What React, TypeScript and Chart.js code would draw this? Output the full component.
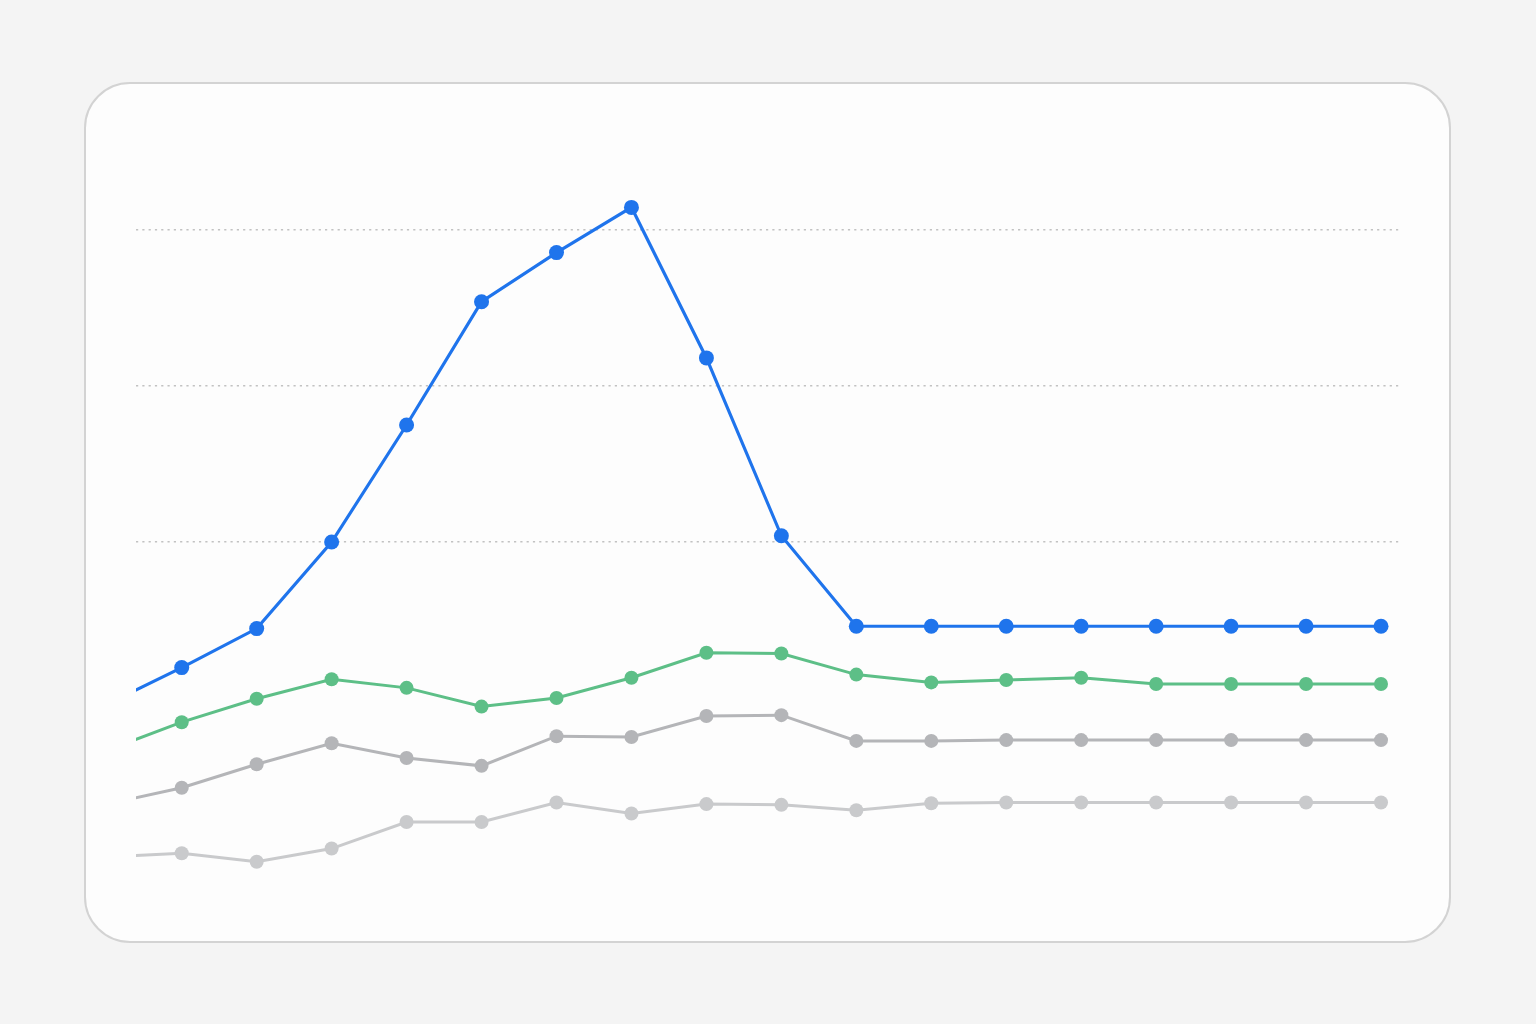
import { useEffect, useRef } from "react";
import { Chart, registerables } from "chart.js";

Chart.register(...registerables);

// period index; -1 is the period just before the window, only its segment shows at the left edge
const periods = [-1, 0, 1, 2, 3, 4, 5, 6, 7, 8, 9, 10, 11, 12, 13, 14, 15, 16];

const primary = [39.2, 43.9, 48.9, 60.0, 75.0, 90.8, 97.1, 102.9, 83.6, 60.8, 49.2, 49.2, 49.2, 49.2, 49.2, 49.2, 49.2, 49.2];
const secondary = [33.3, 36.9, 39.9, 42.4, 41.3, 38.9, 40.0, 42.6, 45.8, 45.7, 43.0, 42.0, 42.3, 42.6, 41.8, 41.8, 41.8, 41.8];
const tertiary = [26.4, 28.5, 31.5, 34.2, 32.3, 31.3, 35.1, 35.0, 37.7, 37.8, 34.5, 34.5, 34.6, 34.6, 34.6, 34.6, 34.6, 34.6];
const baseline = [19.6, 20.1, 19.0, 20.7, 24.1, 24.1, 26.6, 25.2, 26.4, 26.3, 25.6, 26.5, 26.6, 26.6, 26.6, 26.6, 26.6, 26.6];

const gridValues = [60, 80, 100];

export default function App() {
  const canvasRef = useRef<HTMLCanvasElement>(null);

  useEffect(() => {
    if (!canvasRef.current) return;

    const series = (label: string, vals: number[], color: string, width: number, radius: number) => ({
      label,
      data: vals.map((y, i) => ({ x: periods[i], y })),
      borderColor: color,
      backgroundColor: color,
      pointBackgroundColor: color,
      pointBorderWidth: 0,
      pointRadius: radius,
      borderWidth: width,
      tension: 0,
    });

    const chart = new Chart(canvasRef.current, {
      type: "line",
      data: {
        datasets: [
          series("Primary", primary, "#1f74ec", 3.2, 7.5),
          series("Secondary", secondary, "#5dbf87", 3, 7),
          series("Tertiary", tertiary, "#b4b5b8", 3, 7),
          series("Baseline", baseline, "#c9cacc", 3, 7),
        ],
      },
      options: {
        animation: false,
        responsive: true,
        maintainAspectRatio: false,
        layout: { padding: { left: 52, right: 52, top: 70, bottom: 50 } },
        plugins: { legend: { display: false }, tooltip: { enabled: false } },
        scales: {
          x: { type: "linear", min: -0.61, max: 16.24, display: false },
          y: {
            min: 15,
            max: 110,
            afterBuildTicks: (scale) => { scale.ticks = gridValues.map((value) => ({ value })); },
            ticks: { display: false },
            grid: { color: "#c2c2c2", lineWidth: 1.5, drawTicks: false },
            border: { display: false, dash: [2.2, 4.1] },
          },
        },
      },
    });

    return () => { chart.destroy(); };
  }, []);

  return (
    <div style={{ position: "fixed", inset: 0, background: "#f4f4f4" }}>
      <div
        style={{
          position: "absolute",
          left: 84,
          top: 82,
          width: 1367,
          height: 861,
          boxSizing: "border-box",
          border: "2px solid #d3d3d3",
          borderRadius: 46,
          background: "#fdfdfd",
        }}
      />
      <div style={{ position: "absolute", left: 84, top: 82, width: 1367, height: 861 }}>
        <canvas ref={canvasRef} />
      </div>
    </div>
  );
}
